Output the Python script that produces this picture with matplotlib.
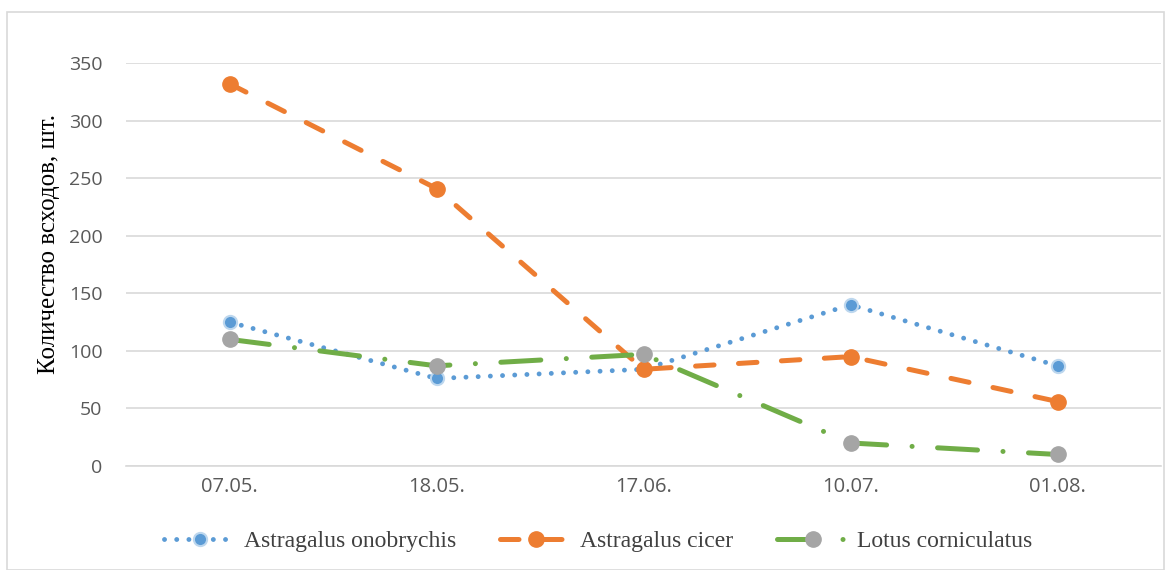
import numpy as np
import matplotlib.pyplot as plt
from matplotlib.patches import Rectangle

# Даты учёта
dates = ["07.05.", "18.05.", "17.06.", "10.07.", "01.08."]

# Количество всходов, шт.
onobrychis = [125, 76, 84, 140, 87]
cicer = [332, 241, 84, 95, 56]
lotus = [110, 87, 97, 20, 10]

fig = plt.figure(figsize=(11.68, 5.70), dpi=100)
ax = fig.add_axes([126 / 1168, 1 - 466 / 570, (1161 - 126) / 1168, (466 - 63) / 570])

x = np.arange(len(dates))

ax.plot(x, onobrychis, color="#5b9bd5", linestyle=(0, (0.01, 2.5)), linewidth=3.5,
        dash_capstyle="round", marker="o", markersize=9.5, markerfacecolor="#5b9bd5",
        markeredgecolor="#bdd7ee", markeredgewidth=1.5, label="Astragalus onobrychis", zorder=3)
ax.plot(x, cicer, color="#ed7d31", linestyle=(0, (3.7, 4.9)), linewidth=3.6,
        dash_capstyle="round", marker="o", markersize=11, markerfacecolor="#ed7d31",
        markeredgecolor="#ed7d31", label="Astragalus cicer", zorder=3)
ax.plot(x, lotus, color="#70ad47", linestyle=(0, (8, 5.1, 0.01, 5.1)), linewidth=3.6,
        dash_capstyle="round", marker="o", markersize=11, markerfacecolor="#a5a5a5",
        markeredgecolor="#a5a5a5", label="Lotus corniculatus", zorder=3)

ax.set_xlim(-0.5, len(dates) - 0.5)
ax.set_ylim(0, 350)
ax.set_yticks(np.arange(0, 351, 50))
ax.set_xticks(x)
ax.set_xticklabels(dates)
ax.grid(axis="y", color="#d9d9d9", linewidth=1.2)
ax.set_axisbelow(True)
for s in ["top", "right", "left"]:
    ax.spines[s].set_visible(False)
ax.spines["bottom"].set_color("#d9d9d9")
ax.spines["bottom"].set_linewidth(1.2)
ax.tick_params(axis="y", length=0, labelsize=14, labelcolor="#595959", pad=17)
ax.tick_params(axis="x", length=0, labelsize=14.5, labelcolor="#595959", pad=8)
for lbl in ax.get_xticklabels() + ax.get_yticklabels():
    lbl.set_family("Open Sans")

ax.set_ylabel("Количество всходов, шт.", family="Liberation Serif", fontsize=18,
              color="#000000")
ax.yaxis.set_label_coords(-(126 - 60) / 1035, (466 - 244) / 403)

leg = fig.legend(loc="center", bbox_to_anchor=(598 / 1168, 1 - 541 / 570), ncol=3,
                 frameon=False, prop={"family": "Liberation Serif", "size": 17},
                 handlelength=3.1, columnspacing=1.85, handletextpad=0.3)
for t in leg.get_texts():
    t.set_color("#404040")

fig.patches.append(Rectangle((7 / 1168, 0), 1157 / 1168, 1 - 12 / 570, transform=fig.transFigure,
                             fill=False, edgecolor="#d9d9d9", linewidth=1.2))

plt.savefig("out.png", dpi=100)
